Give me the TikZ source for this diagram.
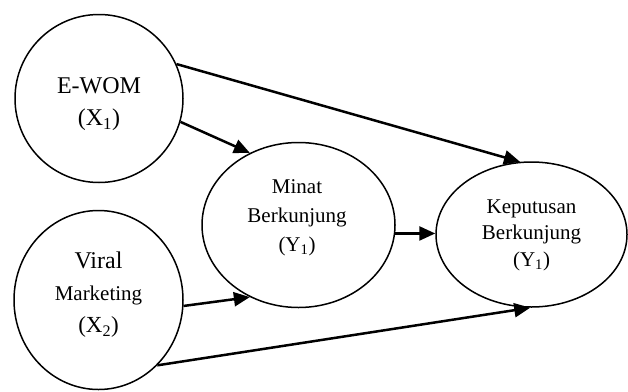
\documentclass[tikz,border=0pt]{standalone}
\usepackage{fontspec}
\setmainfont{Liberation Serif}
\usetikzlibrary{shapes.geometric,arrows.meta}
\begin{document}
\begin{tikzpicture}[x=1pt,y=-1pt,
  var/.style={ellipse,draw=black,line width=1.5pt,inner sep=0pt},
  txt/.style={align=center,inner sep=0pt},
  path/.style={line width=2.5pt,-{Triangle[length=16pt,width=14pt]}}]
\useasboundingbox (0,0) rectangle (628,391);
\node[var,minimum width=168pt,minimum height=168pt] (ewom) at (99,98.5) {};
\node[var,minimum width=169pt,minimum height=179pt] (viral) at (98.5,300) {};
\node[var,minimum width=193pt,minimum height=165pt] (minat) at (298.5,225) {};
\node[var,minimum width=191pt,minimum height=145pt] (kep) at (531.5,234.5) {};
\node[txt,font={\fontsize{24}{32}\selectfont}] (ewomt) at (99,104) {E-WOM\\(X\textsubscript{1})};
\node[txt,font={\fontsize{21}{32}\selectfont}] (viralt) at (98.5,295) {{\fontsize{24}{32}\selectfont Viral}\\Marketing\\{\fontsize{23}{32}\selectfont (X\textsubscript{2})}};
\node[txt,font={\fontsize{21}{29}\selectfont}] (minatt) at (297,218) {Minat\\Berkunjung\\(Y\textsubscript{1})};
\node[txt,font={\fontsize{21}{26.5}\selectfont}] (kept) at (531.5,235) {Keputusan\\Berkunjung\\(Y\textsubscript{1})};
\draw[path] (ewom.24) -- (kep.99);
\draw[path] (ewom.-16) -- (minat.124);
\draw[path] (minat.-5) -- (minat.-5 -| kep.west);
\draw[path] (viral.-4) -- (minat.236);
\draw[path] (viral.-48) -- (kep.269);
\end{tikzpicture}
\end{document}
